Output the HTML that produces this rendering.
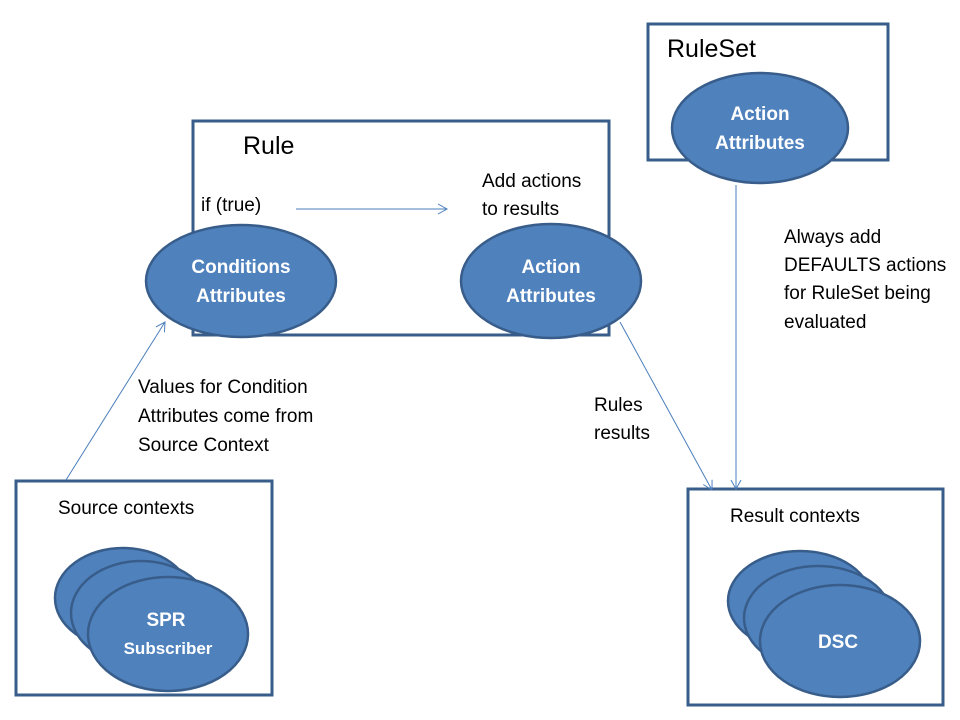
<!DOCTYPE html>
<html><head><meta charset="utf-8"><style>
body{margin:0;background:#fff}
svg{display:block}
text{font-family:"Liberation Sans",sans-serif}
</style></head><body>
<svg width="960" height="720" viewBox="0 0 960 720" xmlns="http://www.w3.org/2000/svg">
<defs>
<marker id="a" markerWidth="12" markerHeight="12" refX="10" refY="6" orient="auto" markerUnits="userSpaceOnUse">
<path d="M1,1 L10,6 L1,11" fill="none" stroke="#4A7EBB" stroke-width="1"/>
</marker>
</defs>
<g fill="none" stroke="#385D8A" stroke-width="3">
<rect x="193" y="121" width="416" height="214"/>
<rect x="648" y="24" width="240" height="136"/>
<rect x="16" y="481" width="256" height="214"/>
<rect x="688" y="489" width="255" height="216"/>
</g>
<g fill="#4F81BD" stroke="#385D8A" stroke-width="2.5">
<ellipse cx="241" cy="281" rx="95" ry="56"/>
<ellipse cx="551" cy="281" rx="90" ry="57"/>
<ellipse cx="760" cy="128" rx="88" ry="55"/>
<ellipse cx="123" cy="598" rx="68" ry="50"/>
<ellipse cx="141" cy="613" rx="70" ry="52"/>
<ellipse cx="168" cy="634" rx="80" ry="57"/>
<ellipse cx="800" cy="601" rx="72" ry="50"/>
<ellipse cx="818" cy="618" rx="74" ry="52"/>
<ellipse cx="840" cy="641" rx="80" ry="56"/>
</g>
<g stroke="#4A7EBB" stroke-width="1" marker-end="url(#a)">
<line x1="296" y1="209" x2="447" y2="209"/>
<line x1="66" y1="480" x2="165" y2="322"/>
<line x1="620" y1="322" x2="712" y2="490"/>
<line x1="736" y1="185" x2="736" y2="489"/>
</g>
<g fill="#fff" font-size="19" text-anchor="middle" font-weight="bold">
<text x="241" y="273">Conditions</text><text x="241" y="302">Attributes</text>
<text x="551" y="273">Action</text><text x="551" y="302">Attributes</text>
<text x="760" y="120">Action</text><text x="760" y="149">Attributes</text>
<text x="166" y="626">SPR</text><text x="168" y="654" font-size="17">Subscriber</text>
<text x="838" y="648">DSC</text>
</g>
<g fill="#000" font-size="19">
<text x="243" y="154" font-size="25">Rule</text>
<text x="667" y="57" font-size="25">RuleSet</text>
<text x="201" y="211">if (true)</text>
<text x="482" y="187">Add actions</text><text x="482" y="215">to results</text>
<text x="784" y="243">Always add</text><text x="784" y="271">DEFAULTS actions</text>
<text x="784" y="299">for RuleSet being</text><text x="784" y="328">evaluated</text>
<text x="138" y="393">Values for Condition</text><text x="138" y="422">Attributes come from</text>
<text x="138" y="451">Source Context</text>
<text x="594" y="411">Rules</text><text x="594" y="439">results</text>
<text x="58" y="514">Source contexts</text>
<text x="730" y="522">Result contexts</text>
</g>
</svg>
</body></html>
